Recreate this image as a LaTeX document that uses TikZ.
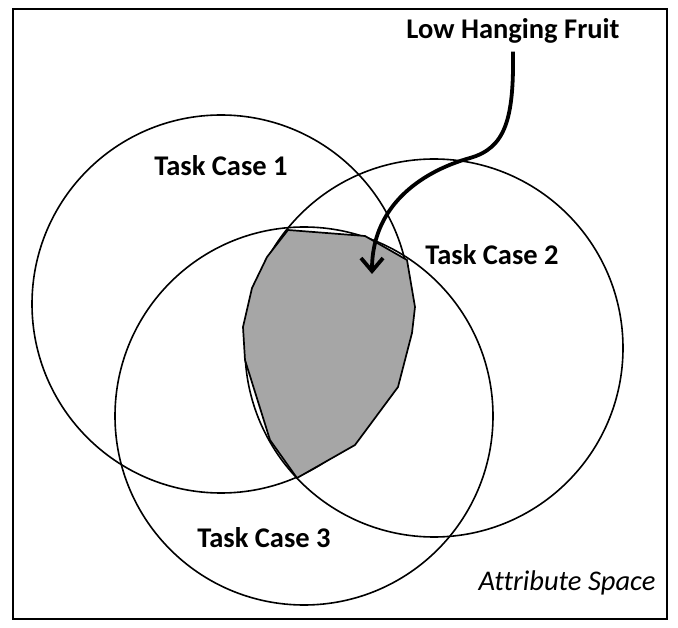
\documentclass[tikz,border=0pt]{standalone}
\usepackage{fontspec}
\setmainfont{Carlito}[Ligatures=NoCommon]
\usepackage{xcolor}
\usepackage{tikz}
\usetikzlibrary{arrows.meta}
\definecolor{fruitgray}{HTML}{A6A6A6}
\tikzset{ring/.style={draw,circle,line width=1.6pt,minimum size=378pt,inner sep=0pt},
    tasklabel/.style={font=\bfseries\fontsize{28.5}{32}\selectfont,inner sep=0pt},
    spacelabel/.style={font=\itshape\fontsize{28.5}{32}\selectfont,inner sep=0pt},
    fruit/.style={draw,fill=fruitgray,line width=1.7pt,line join=round},
    pointer/.style={line width=3.8pt,-{Straight Barb[length=13pt,width=22pt,line width=3.8pt]}},
    pageframe/.style={draw,line width=2.5pt}}

\begin{document}
\begin{tikzpicture}[x=1pt,y=-1pt]
    \useasboundingbox (0,0) rectangle (678,628);
    \draw[pageframe] (13,9) rectangle (667,619);
    % the three task cases
    \node[ring] (tc1) at (221,304) {};
    \node[ring] (tc2) at (434,348) {};
    \node[ring] (tc3) at (304,416) {};
    % overlap of all three
    \draw[fruit] (288,230) -- (365,236) -- (407,260) -- (415,307) -- (412,333)
        -- (398,387) -- (355,445) -- (297,478) -- (270,440) -- (245,360)
        -- (243,327) -- (252,288) -- (267,257) -- cycle;
    \node[tasklabel] (lbl1) at (221,166) {Task Case 1};
    \node[tasklabel] (lbl2) at (492,255) {Task Case 2};
    \node[tasklabel] (lbl3) at (264,538) {Task Case 3};
    \node[spacelabel] (attr) at (567,583) {Attribute Space};
    \node[tasklabel] (lhf) at (513,31) {Low Hanging Fruit};
    \coordinate (tip) at (372,274);
    \draw[pointer] ([yshift=-8pt]lhf.south) .. controls (514,120) and (505,148) .. (470,158)
        .. controls (430,169) and (372,200) .. (tip);
\end{tikzpicture}
\end{document}
